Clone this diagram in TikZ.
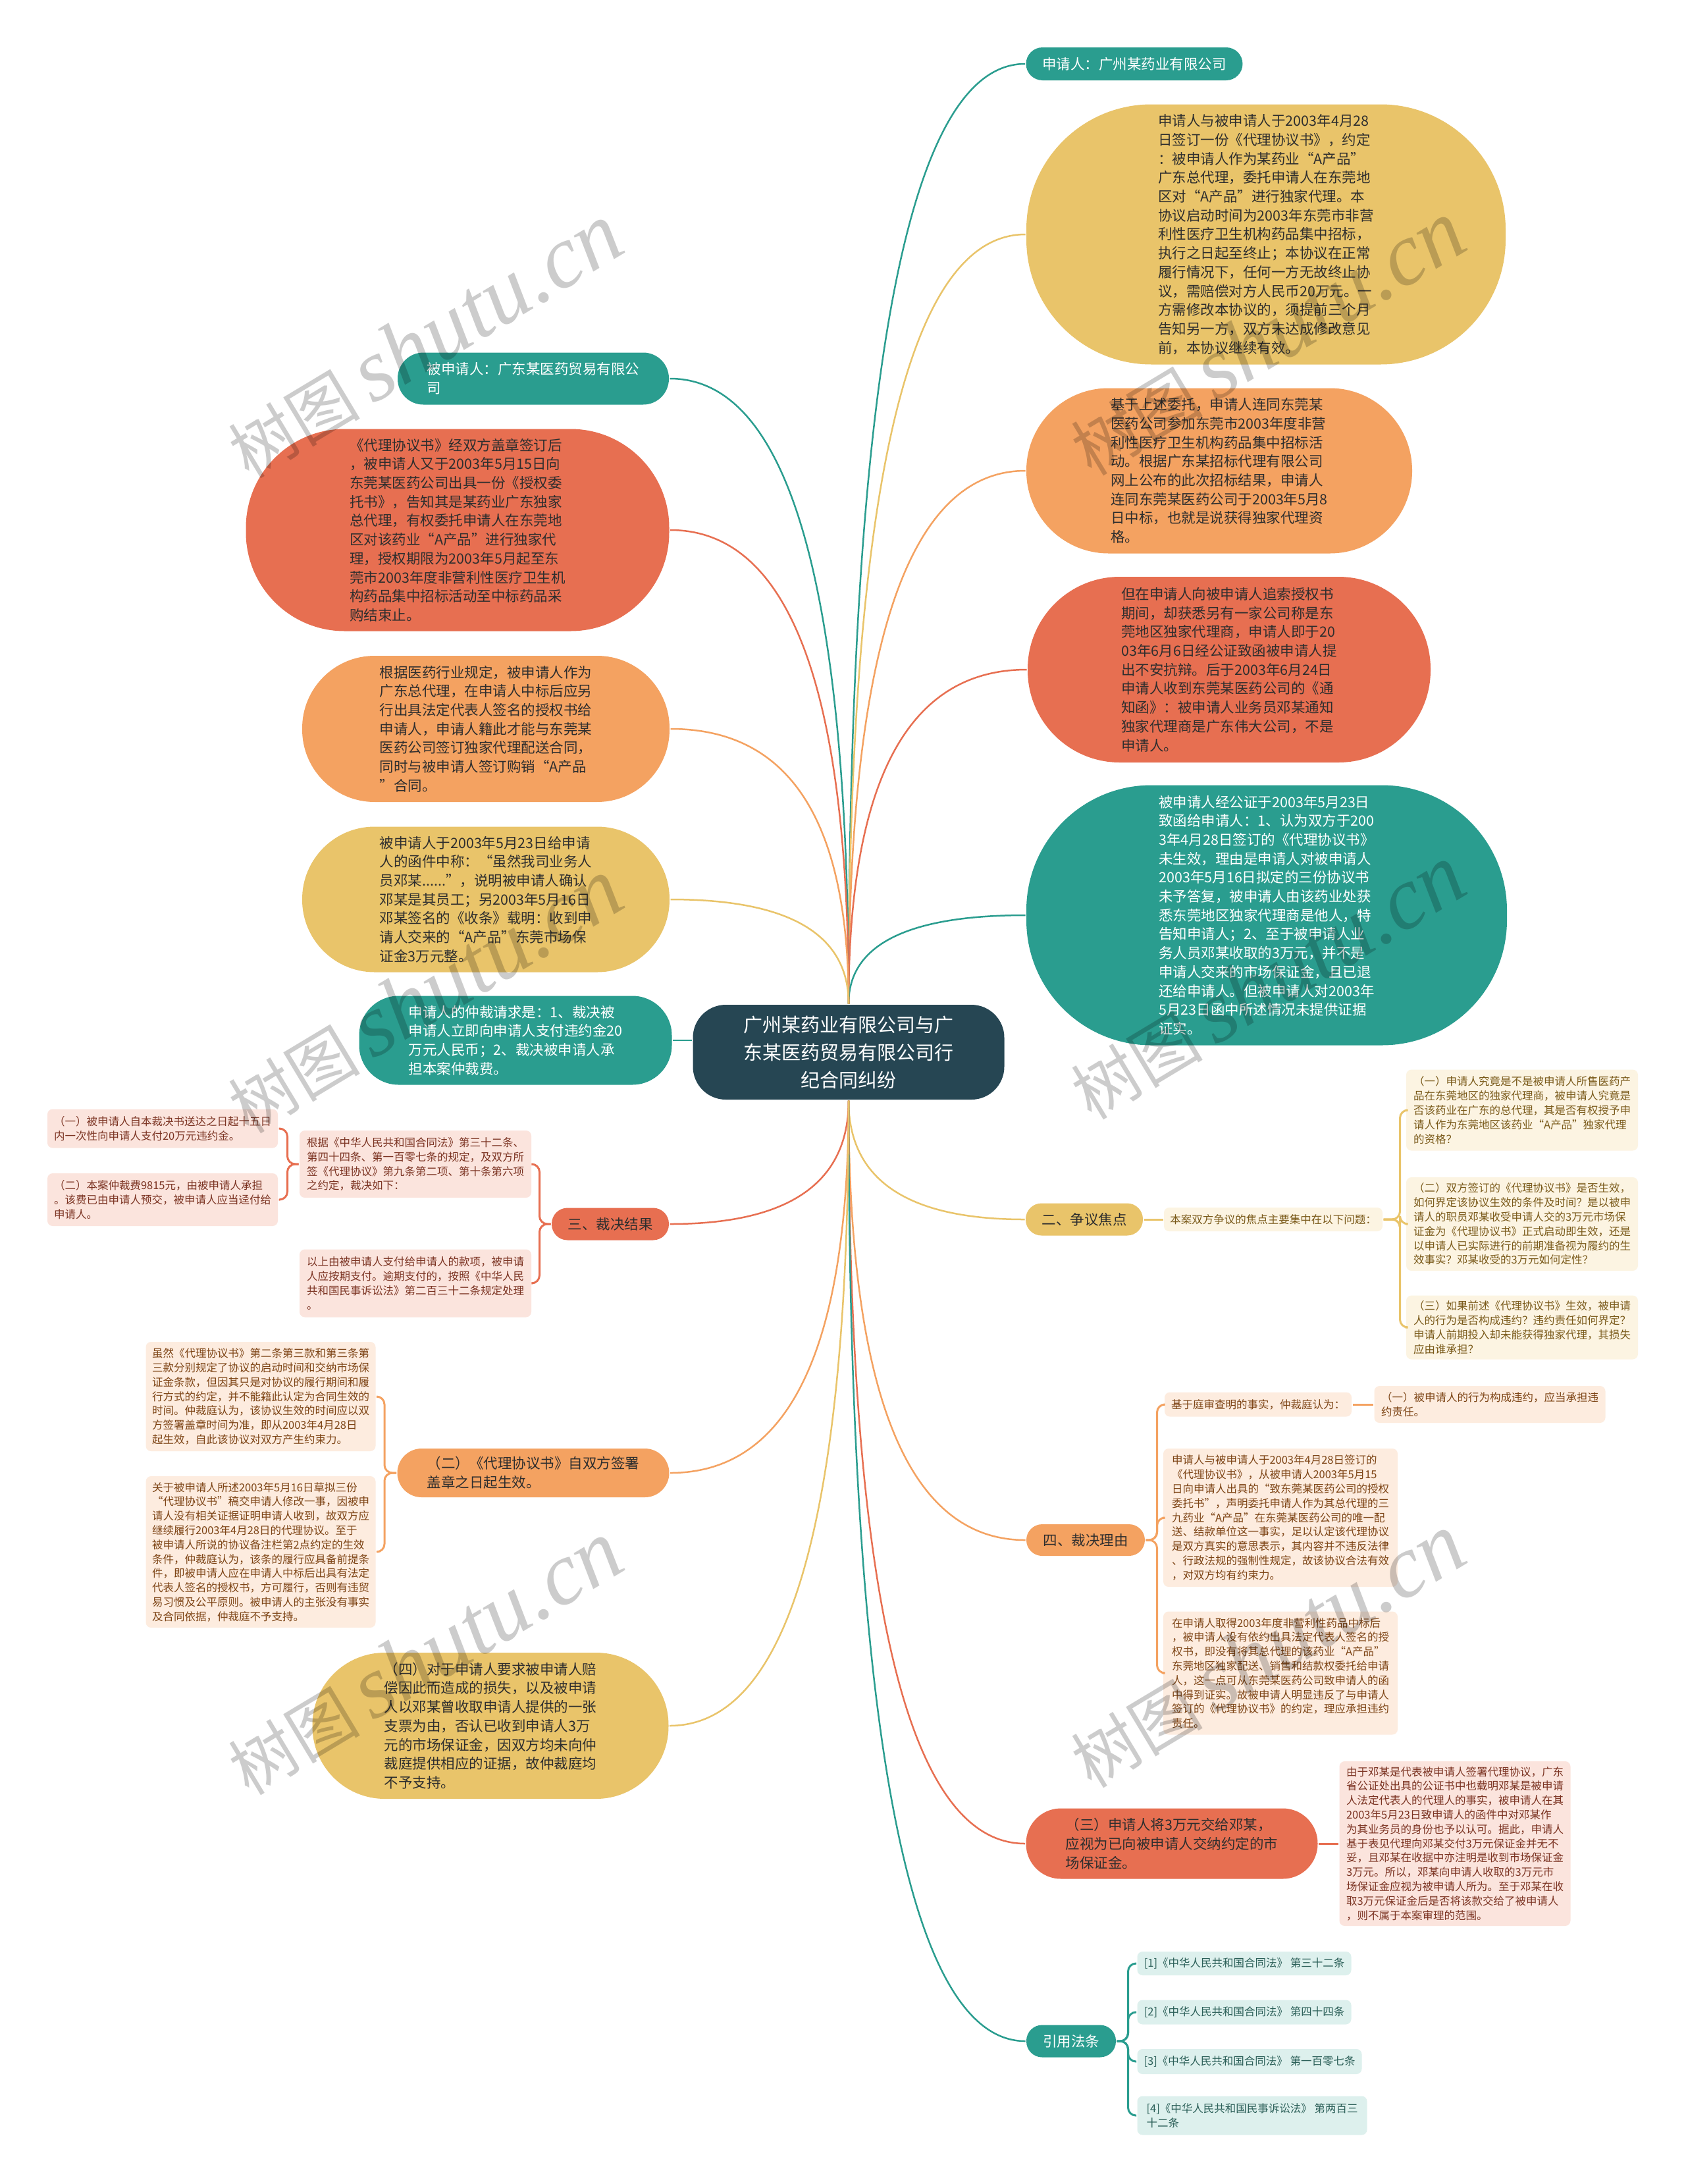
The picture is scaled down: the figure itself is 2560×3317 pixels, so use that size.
\documentclass[tikz,border=0pt]{standalone}
\usepackage{fontspec}
\setmainfont{Noto Sans CJK SC}
\newfontfamily\wmserif{Liberation Serif}
\usetikzlibrary{calc}
\definecolor{cteal}{HTML}{2A9D8F}
\definecolor{cyellow}{HTML}{E9C46A}
\definecolor{corange}{HTML}{F4A261}
\definecolor{cred}{HTML}{E76F51}
\definecolor{cdark}{HTML}{264653}
\definecolor{ctext}{HTML}{2E2E2E}
\definecolor{cpink}{HTML}{FBE4DD}
\definecolor{cpinktext}{HTML}{7B3322}
\definecolor{ccream}{HTML}{FCF4E2}
\definecolor{ccreamtext}{HTML}{7A5A1A}
\definecolor{cpeach}{HTML}{FDECDF}
\definecolor{cpeachtext}{HTML}{7D4415}
\definecolor{cmint}{HTML}{DDF0ED}
\definecolor{cminttext}{HTML}{2B5F58}
\newcommand\froot{\fontsize{29}{42}\selectfont}
\newcommand\fbig{\fontsize{21.5}{28.7}\selectfont}
\newcommand\fleaf{\fontsize{16.5}{21.8}\selectfont}
\begin{document}
\begin{tikzpicture}
[x=1pt, y=-1pt, line width=3pt,
link/.style={line width=2.5pt, to path={.. controls ($(\tikztostart)!0.667!(\tikztostart|-\tikztotarget)$) and ($(\tikztotarget)!0.667!(\tikztostart|-\tikztotarget)$) .. (\tikztotarget)}},
brace/.style={line width=3pt, rounded corners=12pt},
rootbox/.style={rectangle, fill=cdark, text=white, font=\froot, align=center, inner sep=0pt, rounded corners=50pt, minimum width=473pt, minimum height=144pt},
topic/.style={rectangle, fill=#1, text=ctext, font=\fbig, align=left, inner sep=0pt},
redleaf/.style={rectangle, fill=cpink, text=cpinktext, font=\fleaf, align=left, inner sep=0pt, rounded corners=8pt},
yellowleaf/.style={rectangle, fill=ccream, text=ccreamtext, font=\fleaf, align=left, inner sep=0pt, rounded corners=8pt},
orangeleaf/.style={rectangle, fill=cpeach, text=cpeachtext, font=\fleaf, align=left, inner sep=0pt, rounded corners=8pt},
tealleaf/.style={rectangle, fill=cmint, text=cminttext, font=\fleaf, align=left, inner sep=0pt, rounded corners=8pt},
wm/.style={rotate=31, text=black, opacity=0.2, inner sep=0pt}]

\fill[white] (0,0) rectangle (2560,3317);
\useasboundingbox (0,0) rectangle (2560,3317);

\node[rootbox] (root) at (1289,1598) {广州某药业有限公司与广\\东某医药贸易有限公司行\\纪合同纠纷};

\node[topic=cteal, text=white, minimum width=329pt, minimum height=50pt, rounded corners=25pt] (applicant) at (1723,97) {申请人：广州某药业有限公司};

\node[topic=cyellow, minimum width=728pt, minimum height=395pt, rounded corners=190pt] (agreement) at (1923,356) {申请人与被申请人于2003年4月28\\日签订一份《代理协议书》，约定\\：被申请人作为某药业“A产品”\\广东总代理，委托申请人在东莞地\\区对“A产品”进行独家代理。本\\协议启动时间为2003年东莞市非营\\利性医疗卫生机构药品集中招标，\\执行之日起至终止；本协议在正常\\履行情况下，任何一方无故终止协\\议，需赔偿对方人民币20万元。一\\方需修改本协议的，须提前三个月\\告知另一方，双方未达成修改意见\\前，本协议继续有效。};

\node[topic=corange, minimum width=586pt, minimum height=251pt, rounded corners=125pt] (bidding) at (1852,715) {基于上述委托，申请人连同东莞某\\医药公司参加东莞市2003年度非营\\利性医疗卫生机构药品集中招标活\\动。根据广东某招标代理有限公司\\网上公布的此次招标结果，申请人\\连同东莞某医药公司于2003年5月8\\日中标，也就是说获得独家代理资\\格。};

\node[topic=cred, minimum width=612pt, minimum height=282pt, rounded corners=140pt] (notice) at (1867,1017) {但在申请人向被申请人追索授权书\\期间，却获悉另有一家公司称是东\\莞地区独家代理商，申请人即于20\\03年6月6日经公证致函被申请人提\\出不安抗辩。后于2003年6月24日\\申请人收到东莞某医药公司的《通\\知函》：被申请人业务员邓某通知\\独家代理商是广东伟大公司，不是\\申请人。};

\node[topic=cteal, text=white, minimum width=730pt, minimum height=395pt, rounded corners=190pt] (reply) at (1924,1390) {被申请人经公证于2003年5月23日\\致函给申请人：1、认为双方于200\\3年4月28日签订的《代理协议书》\\未生效，理由是申请人对被申请人\\2003年5月16日拟定的三份协议书\\未予答复，被申请人由该药业处获\\悉东莞地区独家代理商是他人，特\\告知申请人；2、至于被申请人业\\务人员邓某收取的3万元，并不是\\申请人交来的市场保证金，且已退\\还给申请人。但被申请人对2003年\\5月23日函中所述情况未提供证据\\证实。};

\node[topic=cyellow, minimum width=178pt, minimum height=49pt, rounded corners=24pt] (focus) at (1647,1852) {二、争议焦点};
\node[yellowleaf, minimum width=332pt, minimum height=36pt] (focustext) at (1934,1852) {本案双方争议的焦点主要集中在以下问题：};
\node[yellowleaf, minimum width=352pt, minimum height=123pt] (issue1) at (2312,1686) {（一）申请人究竟是不是被申请人所售医药产\\品在东莞地区的独家代理商，被申请人究竟是\\否该药业在广东的总代理，其是否有权授予申\\请人作为东莞地区该药业“A产品”独家代理\\的资格？};
\node[yellowleaf, minimum width=352pt, minimum height=142pt] (issue2) at (2312,1859) {（二）双方签订的《代理协议书》是否生效，\\如何界定该协议生效的条件及时间？是以被申\\请人的职员邓某收受申请人交的3万元市场保\\证金为《代理协议书》正式启动即生效，还是\\以申请人已实际进行的前期准备视为履约的生\\效事实？邓某收受的3万元如何定性？};
\node[yellowleaf, minimum width=352pt, minimum height=97pt] (issue3) at (2312,2016) {（三）如果前述《代理协议书》生效，被申请\\人的行为是否构成违约？违约责任如何界定？\\申请人前期投入却未能获得独家代理，其损失\\应由谁承担？};

\node[topic=corange, minimum width=180pt, minimum height=48pt, rounded corners=24pt] (reason) at (1649,2339) {四、裁决理由};
\node[orangeleaf, minimum width=284pt, minimum height=37pt] (fact) at (1911,2133) {基于庭审查明的事实，仲裁庭认为：};
\node[orangeleaf, minimum width=351pt, minimum height=56pt] (breach) at (2263,2133) {（一）被申请人的行为构成违约，应当承担违\\约责任。};
\node[orangeleaf, minimum width=356pt, minimum height=210pt] (valid) at (1945,2305) {申请人与被申请人于2003年4月28日签订的\\《代理协议书》，从被申请人2003年5月15\\日向申请人出具的“致东莞某医药公司的授权\\委托书”，声明委托申请人作为其总代理的三\\九药业“A产品”在东莞某医药公司的唯一配\\送、结款单位这一事实，足以认定该代理协议\\是双方真实的意思表示，其内容并不违反法律\\、行政法规的强制性规定，故该协议合法有效\\，对双方均有约束力。};
\node[orangeleaf, minimum width=356pt, minimum height=187pt] (violate) at (1945,2541) {在申请人取得2003年度非营利性药品中标后\\，被申请人没有依约出具法定代表人签名的授\\权书，即没有将其总代理的该药业“A产品”\\东莞地区独家配送、销售和结款权委托给申请\\人，这一点可从东莞某医药公司致申请人的函\\中得到证实。故被申请人明显违反了与申请人\\签订的《代理协议书》的约定，理应承担违约\\责任。};

\node[topic=cred, minimum width=443pt, minimum height=107pt, rounded corners=53pt] (deposit) at (1780,2800) {（三）申请人将3万元交给邓某，\\应视为已向被申请人交纳约定的市\\场保证金。};
\node[redleaf, minimum width=351pt, minimum height=250pt] (depositwhy) at (2210,2800) {由于邓某是代表被申请人签署代理协议，广东\\省公证处出具的公证书中也载明邓某是被申请\\人法定代表人的代理人的事实，被申请人在其\\2003年5月23日致申请人的函件中对邓某作\\为其业务员的身份也予以认可。据此，申请人\\基于表见代理向邓某交付3万元保证金并无不\\妥，且邓某在收据中亦注明是收到市场保证金\\3万元。所以，邓某向申请人收取的3万元市\\场保证金应视为被申请人所为。至于邓某在收\\取3万元保证金后是否将该款交给了被申请人\\，则不属于本案审理的范围。};

\node[topic=cteal, text=white, minimum width=136pt, minimum height=49pt, rounded corners=24pt] (laws) at (1627,3100) {引用法条};
\node[tealleaf, minimum width=325pt, minimum height=36pt] (law1) at (1890,2982) {[1]《中华人民共和国合同法》 第三十二条};
\node[tealleaf, minimum width=325pt, minimum height=37pt] (law2) at (1890,3056) {[2]《中华人民共和国合同法》 第四十四条};
\node[tealleaf, minimum width=341pt, minimum height=38pt] (law3) at (1898,3131) {[3]《中华人民共和国合同法》 第一百零七条};
\node[tealleaf, minimum width=349pt, minimum height=59pt] (law4) at (1902,3213) {[4]《中华人民共和国民事诉讼法》 第两百三\\十二条};

\node[topic=cteal, text=white, minimum width=412pt, minimum height=79pt, rounded corners=39pt] (respondent) at (810,575) {被申请人：广东某医药贸易有限公\\司};

\node[topic=cred, minimum width=643pt, minimum height=307pt, rounded corners=150pt] (authorize) at (695,805) {《代理协议书》经双方盖章签订后\\，被申请人又于2003年5月15日向\\东莞某医药公司出具一份《授权委\\托书》，告知其是某药业广东独家\\总代理，有权委托申请人在东莞地\\区对该药业“A产品”进行独家代\\理，授权期限为2003年5月起至东\\莞市2003年度非营利性医疗卫生机\\构药品集中招标活动至中标药品采\\购结束止。};

\node[topic=corange, minimum width=558pt, minimum height=222pt, rounded corners=110pt] (rule) at (738,1107) {根据医药行业规定，被申请人作为\\广东总代理，在申请人中标后应另\\行出具法定代表人签名的授权书给\\申请人，申请人籍此才能与东莞某\\医药公司签订独家代理配送合同，\\同时与被申请人签订购销“A产品\\”合同。};

\node[topic=cyellow, minimum width=558pt, minimum height=221pt, rounded corners=110pt] (letter) at (738,1366) {被申请人于2003年5月23日给申请\\人的函件中称：“虽然我司业务人\\员邓某......”，说明被申请人确认\\邓某是其员工；另2003年5月16日\\邓某签名的《收条》载明：收到申\\请人交来的“A产品”东莞市场保\\证金3万元整。};

\node[topic=cteal, text=white, minimum width=475pt, minimum height=135pt, rounded corners=60pt] (claim) at (783,1580) {申请人的仲裁请求是：1、裁决被\\申请人立即向申请人支付违约金20\\万元人民币；2、裁决被申请人承\\担本案仲裁费。};

\node[topic=cred, minimum width=178pt, minimum height=49pt, rounded corners=24pt] (award) at (927,1859) {三、裁决结果};
\node[redleaf, minimum width=352pt, minimum height=102pt] (awardbasis) at (631,1768) {根据《中华人民共和国合同法》第三十二条、\\第四十四条、第一百零七条的规定，及双方所\\签《代理协议》第九条第二项、第十条第六项\\之约定，裁决如下：};
\node[redleaf, minimum width=350pt, minimum height=59pt] (item1) at (247,1714) {（一）被申请人自本裁决书送达之日起十五日\\内一次性向申请人支付20万元违约金。};
\node[redleaf, minimum width=350pt, minimum height=80pt] (item2) at (247,1822) {（二）本案仲裁费9815元，由被申请人承担\\。该费已由申请人预交，被申请人应当迳付给\\申请人。};
\node[redleaf, minimum width=352pt, minimum height=103pt] (awardpay) at (631,1949) {以上由被申请人支付给申请人的款项，被申请\\人应按期支付。逾期支付的，按照《中华人民\\共和国民事诉讼法》第二百三十二条规定处理\\。};

\node[topic=corange, minimum width=413pt, minimum height=74pt, rounded corners=37pt] (effect) at (810,2237) {（二）《代理协议书》自双方签署\\盖章之日起生效。};
\node[orangeleaf, minimum width=349pt, minimum height=166pt] (effecta) at (396,2121) {虽然《代理协议书》第二条第三款和第三条第\\三款分别规定了协议的启动时间和交纳市场保\\证金条款，但因其只是对协议的履行期间和履\\行方式的约定，并不能籍此认定为合同生效的\\时间。仲裁庭认为，该协议生效的时间应以双\\方签署盖章时间为准，即从2003年4月28日\\起生效，自此该协议对双方产生约束力。};
\node[orangeleaf, minimum width=349pt, minimum height=230pt] (effectb) at (396,2357) {关于被申请人所述2003年5月16日草拟三份\\“代理协议书”稿交申请人修改一事，因被申\\请人没有相关证据证明申请人收到，故双方应\\继续履行2003年4月28日的代理协议。至于\\被申请人所说的协议备注栏第2点约定的生效\\条件，仲裁庭认为，该条的履行应具备前提条\\件，即被申请人应在申请人中标后出具有法定\\代表人签名的授权书，方可履行，否则有违贸\\易习惯及公平原则。被申请人的主张没有事实\\及合同依据，仲裁庭不予支持。};

\node[topic=cyellow, minimum width=541pt, minimum height=222pt, rounded corners=110pt] (loss) at (745,2621) {（四）对于申请人要求被申请人赔\\偿因此而造成的损失，以及被申请\\人以邓某曾收取申请人提供的一张\\支票为由，否认已收到申请人3万\\元的市场保证金，因双方均未向仲\\裁庭提供相应的证据，故仲裁庭均\\不予支持。};

\draw[link, cteal] (root.north) to (applicant.west);
\draw[link, cyellow] (root.north) to (agreement.west);
\draw[link, corange] (root.north) to (bidding.west);
\draw[link, cred] (root.north) to (notice.west);
\draw[link, cteal] (root.north) to (reply.west);
\draw[link, cteal] (root.north) to (respondent.east);
\draw[link, cred] (root.north) to (authorize.east);
\draw[link, corange] (root.north) to (rule.east);
\draw[link, cyellow] (root.north) to (letter.east);
\draw[cteal, line width=2.5pt] (claim.east) -- (claim.east -| root.west);
\draw[link, cyellow] (root.south) to (focus.west);
\draw[link, corange] (root.south) to (reason.west);
\draw[link, cred] (root.south) to (deposit.west);
\draw[link, cteal] (root.south) to (laws.west);
\draw[link, cred] (root.south) to (award.east);
\draw[link, corange] (root.south) to (effect.east);
\draw[link, cyellow] (root.south) to (loss.east);

\draw[brace, cyellow] (focus.east) -- (focustext.west);
\draw[brace, cyellow] (focustext.east) -- ++(25,0) |- (issue1.west);
\draw[brace, cyellow] (focustext.east) -- ++(25,0) |- (issue2.west);
\draw[brace, cyellow] (focustext.east) -- ++(25,0) |- (issue3.west);
\draw[brace, corange] (reason.east) -- ++(17,0) |- (fact.west);
\draw[brace, corange] (reason.east) -- ++(17,0) |- (valid.west);
\draw[brace, corange] (reason.east) -- ++(17,0) |- (violate.west);
\draw[brace, corange] (fact.east) -- (breach.west);
\draw[brace, cred] (deposit.east) -- (depositwhy.west);
\draw[brace, cteal] (laws.east) -- ++(17,0) |- (law1.west);
\draw[brace, cteal] (laws.east) -- ++(17,0) |- (law2.west);
\draw[brace, cteal] (laws.east) -- ++(17,0) |- (law3.west);
\draw[brace, cteal] (laws.east) -- ++(17,0) |- (law4.west);
\draw[brace, cred] (award.west) -- ++(-17,0) |- (awardbasis.east);
\draw[brace, cred] (award.west) -- ++(-17,0) |- (awardpay.east);
\draw[brace, cred] (awardbasis.west) -- ++(-17,0) |- (item1.east);
\draw[brace, cred] (awardbasis.west) -- ++(-17,0) |- (item2.east);
\draw[brace, corange] (effect.west) -- ++(-18,0) |- (effecta.east);
\draw[brace, corange] (effect.west) -- ++(-18,0) |- (effectb.east);

\node[wm] (wm1) at (645,518) {{\fontsize{100}{100}\selectfont 树图}\hspace{20pt}{\wmserif\itshape\fontsize{135}{135}\selectfont shutu.cn}};
\node[wm] (wm2) at (1925,514) {{\fontsize{100}{100}\selectfont 树图}\hspace{20pt}{\wmserif\itshape\fontsize{135}{135}\selectfont shutu.cn}};
\node[wm] (wm3) at (645,1513) {{\fontsize{100}{100}\selectfont 树图}\hspace{20pt}{\wmserif\itshape\fontsize{135}{135}\selectfont shutu.cn}};
\node[wm] (wm4) at (1925,1492) {{\fontsize{100}{100}\selectfont 树图}\hspace{20pt}{\wmserif\itshape\fontsize{135}{135}\selectfont shutu.cn}};
\node[wm] (wm5) at (645,2518) {{\fontsize{100}{100}\selectfont 树图}\hspace{20pt}{\wmserif\itshape\fontsize{135}{135}\selectfont shutu.cn}};
\node[wm] (wm6) at (1925,2507) {{\fontsize{100}{100}\selectfont 树图}\hspace{20pt}{\wmserif\itshape\fontsize{135}{135}\selectfont shutu.cn}};

\end{tikzpicture}
\end{document}
